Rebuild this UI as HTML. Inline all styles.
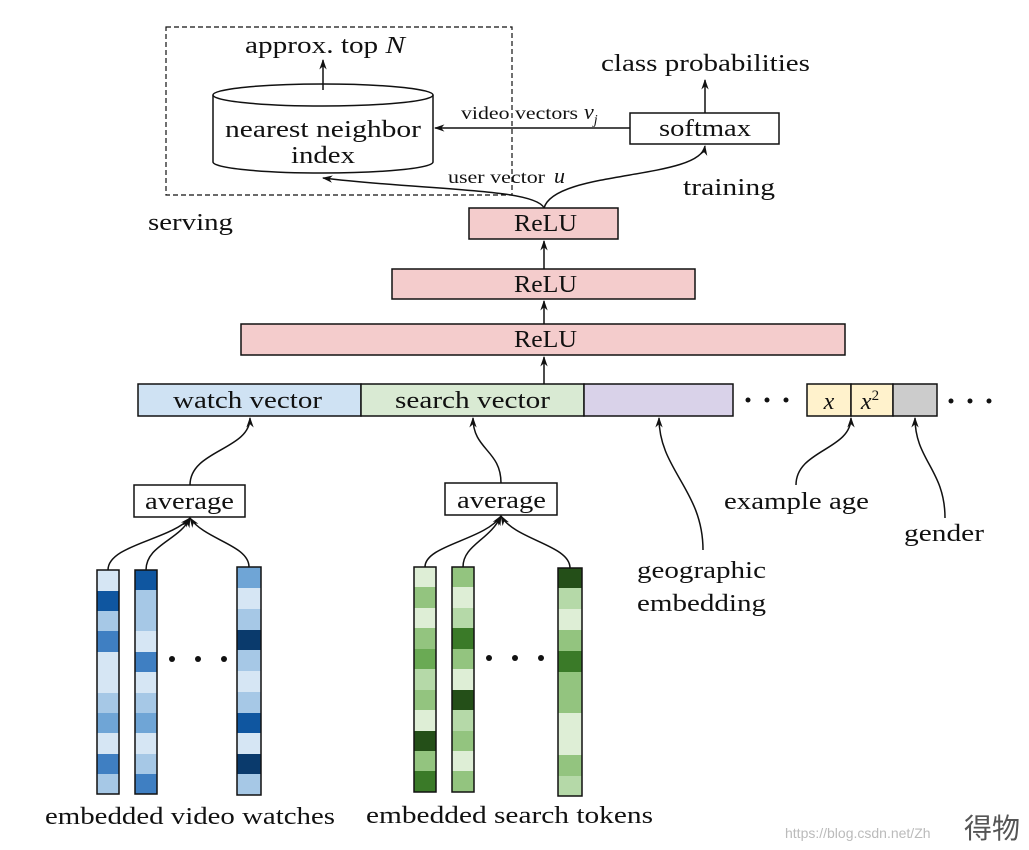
<!DOCTYPE html>
<html><head><meta charset="utf-8"><style>
html,body{margin:0;padding:0;background:#fff;}
svg{display:block;}
text{font-family:"Liberation Serif",serif;fill:#111;}
</style></head><body>
<svg width="1029" height="850" viewBox="0 0 1029 850" xmlns="http://www.w3.org/2000/svg">
<defs>
<marker id="a" viewBox="0 0 10 10" refX="9" refY="5" markerWidth="7" markerHeight="7" orient="auto-start-reverse"><path d="M0,1.5 L10,5 L0,8.5 L3,5 z" fill="#111"/></marker>
</defs>
<g stroke="#111" stroke-width="1.5" fill="none">
<rect x="166" y="27" width="346" height="168" stroke-dasharray="5,3" stroke-width="1.2"/>
<path d="M213,95 L213,162 A110,11 0 0 0 433,162 L433,95" fill="#fff"/>
<ellipse cx="323" cy="95" rx="110" ry="11" fill="#fff"/>
<line x1="323" y1="90" x2="323" y2="60" marker-end="url(#a)"/>
<rect x="630" y="113" width="149" height="31" fill="#fff"/>
<line x1="705" y1="113" x2="705" y2="80" marker-end="url(#a)"/>
<line x1="630" y1="128" x2="435" y2="128" marker-end="url(#a)"/>
<path d="M544,208 C535,188 420,190 323,178" marker-end="url(#a)"/>
<path d="M544,208 C555,170 700,180 705,146" marker-end="url(#a)"/>
<rect x="469" y="208" width="149" height="31" fill="#f4cccc"/>
<rect x="392" y="269" width="303" height="30" fill="#f4cccc"/>
<rect x="241" y="324" width="604" height="31" fill="#f4cccc"/>
<line x1="544" y1="269" x2="544" y2="241" marker-end="url(#a)"/>
<line x1="544" y1="324" x2="544" y2="301" marker-end="url(#a)"/>
<line x1="544" y1="384" x2="544" y2="357" marker-end="url(#a)"/>
<rect x="138" y="384" width="223" height="32" fill="#cfe2f3"/>
<rect x="361" y="384" width="223" height="32" fill="#d9ead3"/>
<rect x="584" y="384" width="149" height="32" fill="#d9d2e9"/>
<rect x="807" y="384" width="44" height="32" fill="#fff2cc"/>
<rect x="851" y="384" width="42" height="32" fill="#fff2cc"/>
<rect x="893" y="384" width="44" height="32" fill="#cccccc"/>
<rect x="134" y="485" width="111" height="32" fill="#fff"/>
<rect x="445" y="483" width="112" height="32" fill="#fff"/>
<path d="M190,485 C190,450 250,450 250,418" marker-end="url(#a)"/>
<path d="M501,483 C501,450 473,450 473,418" marker-end="url(#a)"/>
<path d="M703,550 C703,490 659,470 659,418" marker-end="url(#a)"/>
<path d="M796,485 C796,450 851,450 851,418" marker-end="url(#a)"/>
<path d="M945,518 C945,470 915,460 915,418" marker-end="url(#a)"/>
<path d="M108,570 C108,545 170,540 190,518" marker-end="url(#a)"/>
<path d="M146,570 C146,545 180,540 190,518" marker-end="url(#a)"/>
<path d="M249,567 C249,545 205,540 190,518" marker-end="url(#a)"/>
<path d="M425,567 C425,545 485,540 501,516" marker-end="url(#a)"/>
<path d="M463,567 C463,545 490,540 501,516" marker-end="url(#a)"/>
<path d="M570,568 C570,545 515,540 501,516" marker-end="url(#a)"/>
</g>
<g stroke="none">
<g transform="translate(97,570)">
<rect y="0" width="22" height="21" fill="#d6e6f4"/><rect y="21" width="22" height="20" fill="#0f56a0"/><rect y="41" width="22" height="20" fill="#a6c8e6"/><rect y="61" width="22" height="21" fill="#3f7fc2"/><rect y="82" width="22" height="41" fill="#d6e6f4"/><rect y="123" width="22" height="20" fill="#a6c8e6"/><rect y="143" width="22" height="20" fill="#6fa5d6"/><rect y="163" width="22" height="21" fill="#d6e6f4"/><rect y="184" width="22" height="20" fill="#3f7fc2"/><rect y="204" width="22" height="20" fill="#a6c8e6"/>
<rect width="22" height="224" fill="none" stroke="#111" stroke-width="1.5"/></g>
<g transform="translate(135,570)">
<rect y="0" width="22" height="20" fill="#0f56a0"/><rect y="20" width="22" height="41" fill="#a6c8e6"/><rect y="61" width="22" height="21" fill="#d6e6f4"/><rect y="82" width="22" height="20" fill="#3f7fc2"/><rect y="102" width="22" height="21" fill="#d6e6f4"/><rect y="123" width="22" height="20" fill="#a6c8e6"/><rect y="143" width="22" height="20" fill="#6fa5d6"/><rect y="163" width="22" height="21" fill="#d6e6f4"/><rect y="184" width="22" height="20" fill="#a6c8e6"/><rect y="204" width="22" height="20" fill="#3f7fc2"/>
<rect width="22" height="224" fill="none" stroke="#111" stroke-width="1.5"/></g>
<g transform="translate(237,567)">
<rect y="0" width="24" height="21" fill="#6fa5d6"/><rect y="21" width="24" height="21" fill="#d6e6f4"/><rect y="42" width="24" height="21" fill="#a6c8e6"/><rect y="63" width="24" height="20" fill="#0a3a6c"/><rect y="83" width="24" height="21" fill="#a6c8e6"/><rect y="104" width="24" height="21" fill="#d6e6f4"/><rect y="125" width="24" height="21" fill="#a6c8e6"/><rect y="146" width="24" height="20" fill="#0f56a0"/><rect y="166" width="24" height="21" fill="#d6e6f4"/><rect y="187" width="24" height="20" fill="#0a3a6c"/><rect y="207" width="24" height="21" fill="#a6c8e6"/>
<rect width="24" height="228" fill="none" stroke="#111" stroke-width="1.5"/></g>
<g transform="translate(414,567)">
<rect y="0" width="22" height="20" fill="#deeed6"/><rect y="20" width="22" height="21" fill="#93c47f"/><rect y="41" width="22" height="20" fill="#deeed6"/><rect y="61" width="22" height="21" fill="#93c47f"/><rect y="82" width="22" height="20" fill="#6aaa54"/><rect y="102" width="22" height="21" fill="#b5d9a8"/><rect y="123" width="22" height="20" fill="#93c47f"/><rect y="143" width="22" height="21" fill="#deeed6"/><rect y="164" width="22" height="20" fill="#244f18"/><rect y="184" width="22" height="20" fill="#93c47f"/><rect y="204" width="22" height="21" fill="#3a7a28"/>
<rect width="22" height="225" fill="none" stroke="#111" stroke-width="1.5"/></g>
<g transform="translate(452,567)">
<rect y="0" width="22" height="20" fill="#93c47f"/><rect y="20" width="22" height="21" fill="#deeed6"/><rect y="41" width="22" height="20" fill="#b5d9a8"/><rect y="61" width="22" height="21" fill="#3a7a28"/><rect y="82" width="22" height="20" fill="#93c47f"/><rect y="102" width="22" height="21" fill="#deeed6"/><rect y="123" width="22" height="20" fill="#244f18"/><rect y="143" width="22" height="21" fill="#b5d9a8"/><rect y="164" width="22" height="20" fill="#93c47f"/><rect y="184" width="22" height="20" fill="#deeed6"/><rect y="204" width="22" height="21" fill="#93c47f"/>
<rect width="22" height="225" fill="none" stroke="#111" stroke-width="1.5"/></g>
<g transform="translate(558,568)">
<rect y="0" width="24" height="20" fill="#244f18"/><rect y="20" width="24" height="21" fill="#b5d9a8"/><rect y="41" width="24" height="21" fill="#deeed6"/><rect y="62" width="24" height="21" fill="#93c47f"/><rect y="83" width="24" height="21" fill="#3a7a28"/><rect y="104" width="24" height="41" fill="#93c47f"/><rect y="145" width="24" height="42" fill="#deeed6"/><rect y="187" width="24" height="21" fill="#93c47f"/><rect y="208" width="24" height="20" fill="#b5d9a8"/>
<rect width="24" height="228" fill="none" stroke="#111" stroke-width="1.5"/></g>
<circle cx="172" cy="659" r="3" fill="#111"/><circle cx="198" cy="659" r="3" fill="#111"/><circle cx="224" cy="659" r="3" fill="#111"/>
<circle cx="489" cy="658" r="3" fill="#111"/><circle cx="515" cy="658" r="3" fill="#111"/><circle cx="541" cy="658" r="3" fill="#111"/>
<circle cx="748" cy="400" r="2.5" fill="#111"/><circle cx="767" cy="400" r="2.5" fill="#111"/><circle cx="786" cy="400" r="2.5" fill="#111"/>
<circle cx="951" cy="401" r="2.5" fill="#111"/><circle cx="970" cy="401" r="2.5" fill="#111"/><circle cx="989" cy="401" r="2.5" fill="#111"/>
</g>
<g font-size="24" lengthAdjust="spacingAndGlyphs">
<text x="245" y="53" textLength="160" lengthAdjust="spacingAndGlyphs">approx. top <tspan font-style="italic">N</tspan></text>
<text x="225" y="137" textLength="196" lengthAdjust="spacingAndGlyphs">nearest neighbor</text>
<text x="291" y="163" textLength="64" lengthAdjust="spacingAndGlyphs">index</text>
<text x="601" y="71" textLength="209" lengthAdjust="spacingAndGlyphs">class probabilities</text>
<text x="659" y="136" textLength="92" lengthAdjust="spacingAndGlyphs">softmax</text>
<text x="683" y="195" textLength="92" lengthAdjust="spacingAndGlyphs">training</text>
<text x="148" y="230" textLength="85" lengthAdjust="spacingAndGlyphs">serving</text>
<text x="514" y="231" textLength="63" lengthAdjust="spacingAndGlyphs">ReLU</text>
<text x="514" y="292" textLength="63" lengthAdjust="spacingAndGlyphs">ReLU</text>
<text x="514" y="347" textLength="63" lengthAdjust="spacingAndGlyphs">ReLU</text>
<text x="173" y="408" textLength="149" lengthAdjust="spacingAndGlyphs">watch vector</text>
<text x="395" y="408" textLength="155" lengthAdjust="spacingAndGlyphs">search vector</text>
<text x="829" y="409" font-style="italic" text-anchor="middle">x</text>
<text x="870" y="409" font-style="italic" text-anchor="middle">x<tspan font-size="15" font-style="normal" dy="-9">2</tspan></text>
<text x="145" y="509" textLength="89" lengthAdjust="spacingAndGlyphs">average</text>
<text x="457" y="508" textLength="89" lengthAdjust="spacingAndGlyphs">average</text>
<text x="724" y="509" textLength="145" lengthAdjust="spacingAndGlyphs">example age</text>
<text x="904" y="541" textLength="80" lengthAdjust="spacingAndGlyphs">gender</text>
<text x="637" y="578" textLength="129" lengthAdjust="spacingAndGlyphs">geographic</text>
<text x="637" y="611" textLength="129" lengthAdjust="spacingAndGlyphs">embedding</text>
<text x="45" y="824" textLength="290" lengthAdjust="spacingAndGlyphs">embedded video watches</text>
<text x="366" y="823" textLength="287" lengthAdjust="spacingAndGlyphs">embedded search tokens</text>
</g>
<text x="461" y="119" font-size="18" textLength="117" lengthAdjust="spacingAndGlyphs">video vectors</text>
<text x="584" y="119" font-size="22" font-style="italic">v<tspan font-size="14" dy="5">j</tspan></text>
<text x="448" y="183" font-size="18" textLength="97" lengthAdjust="spacingAndGlyphs">user vector</text>
<text x="554" y="183" font-size="22" font-style="italic">u</text>
<text x="785" y="838" font-size="14" style="font-family:'Liberation Sans',sans-serif;fill:#bbb">https://blog.csdn.net/Zh</text>
<text x="964" y="838" font-size="28" style="font-family:'Liberation Sans','Noto Sans CJK SC',sans-serif;fill:#555">得物</text>
</svg>
</body></html>
